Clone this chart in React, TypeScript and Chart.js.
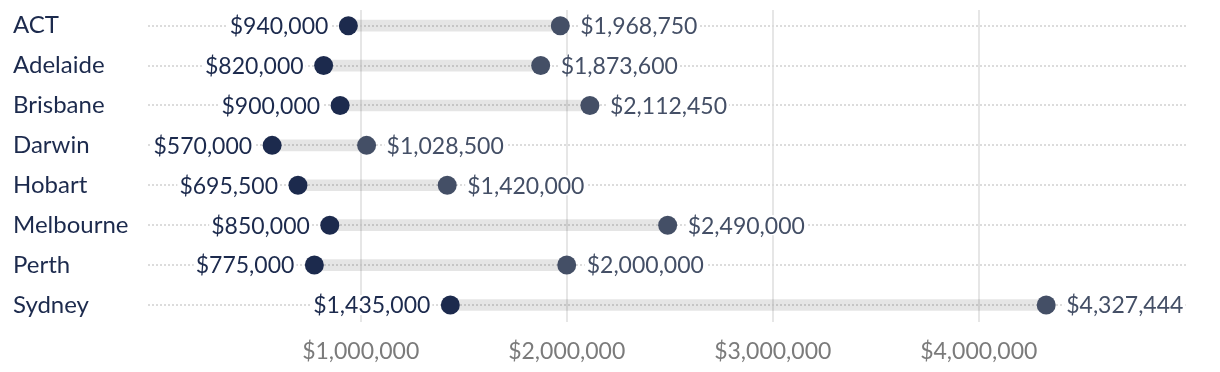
import React, { useEffect, useRef } from "react";
import { Chart, registerables } from "chart.js";

Chart.register(...registerables);

const cities = ["ACT", "Adelaide", "Brisbane", "Darwin", "Hobart", "Melbourne", "Perth", "Sydney"];
const startValues = [940000, 820000, 900000, 570000, 695500, 850000, 775000, 1435000];
const endValues = [1968750, 1873600, 2112450, 1028500, 1420000, 2490000, 2000000, 4327444];
const xTickValues = [1000000, 2000000, 3000000, 4000000];

const FONT = "Lato";
const FS = 23;
const CAT_FS = 24;
const START_COLOR = "#1c2a4d";
const END_COLOR = "#444f66";

const fmt = (v: number) => "$" + String(Math.round(v)).replace(/\B(?=(\d{3})+(?!\d))/g, ",");

const labelPlugin = {
  id: "dumbbellLabels",
  afterDatasetsDraw(chart: any) {
    const { ctx, scales } = chart;
    const x = scales.x;
    const y = scales.y;
    ctx.save();
    ctx.font = `${FS}px ${FONT}`;
    ctx.textBaseline = "middle";
    const draw = (text: string, px: number, py: number, align: "left" | "right", color: string) => {
      const w = ctx.measureText(text).width;
      const left = align === "left" ? px : px - w;
      ctx.fillStyle = "#ffffff";
      ctx.fillRect(left - 2, py - 10, w + 4, 20);
      ctx.fillStyle = color;
      ctx.textAlign = align;
      ctx.fillText(text, px, py + 1);
    };
    cities.forEach((_, i) => {
      const py = y.getPixelForValue(i);
      const xs = x.getPixelForValue(startValues[i]);
      const xe = x.getPixelForValue(endValues[i]);
      draw(fmt(startValues[i]), xs - 20, py, "right", START_COLOR);
      draw(fmt(endValues[i]), xe + 20, py, "left", END_COLOR);
    });
    ctx.restore();
  },
};

export default function App() {
  const ref = useRef<HTMLCanvasElement | null>(null);
  useEffect(() => {
    if (!ref.current) return;
    const chart = new Chart(ref.current, {
      type: "scatter",
      data: {
        datasets: [
          {
            type: "bar",
            indexAxis: "y",
            data: cities.map((_, i) => ({ x: [startValues[i], endValues[i]], y: i })),
            backgroundColor: "rgba(0,0,0,0.1)",
            borderWidth: 0,
            barThickness: 11,
            borderSkipped: false,
            order: 3,
          } as any,
          {
            type: "scatter",
            data: cities.map((_, i) => ({ x: endValues[i], y: i })),
            backgroundColor: END_COLOR,
            borderWidth: 0,
            pointRadius: 9.5,
            pointHoverRadius: 9.5,
            order: 2,
          },
          {
            type: "scatter",
            data: cities.map((_, i) => ({ x: startValues[i], y: i })),
            backgroundColor: START_COLOR,
            borderWidth: 0,
            pointRadius: 9.5,
            pointHoverRadius: 9.5,
            order: 1,
          },
        ],
      },
      options: {
        animation: false,
        responsive: true,
        maintainAspectRatio: false,
        layout: { autoPadding: false, padding: { left: 5, right: 26, top: 2, bottom: 0 } },
        plugins: { legend: { display: false }, tooltip: { enabled: false } },
        scales: {
          x: {
            type: "linear",
            offset: false,
            min: -32500,
            max: 5006000,
            afterBuildTicks: (s: any) => {
              s.ticks = xTickValues.map((v) => ({ value: v }));
            },
            afterFit: (s: any) => {
              s.height = 42;
              s.paddingLeft = 0;
              s.paddingRight = 0;
            },
            grid: { color: "#e6e6e6", lineWidth: 2, drawTicks: false, offset: false },
            border: { display: false },
            ticks: {
              color: "#7b7b7b",
              padding: 16,
              font: { family: FONT, size: FS },
              callback: (v: any) => fmt(Number(v)),
            },
          },
          y: {
            type: "linear",
            offset: false,
            reverse: true,
            min: -0.393,
            max: 7.427,
            afterBuildTicks: (s: any) => {
              s.ticks = cities.map((_, i) => ({ value: i }));
            },
            afterFit: (s: any) => {
              s.width = 135;
              s.paddingTop = 0;
              s.paddingBottom = 0;
            },
            grid: { color: "#dcdcdc", lineWidth: 2, drawTicks: false, offset: false },
            border: { display: false, dash: [2, 2] },
            ticks: {
              color: START_COLOR,
              padding: 0,
              crossAlign: "far",
              font: { family: FONT, size: CAT_FS },
              callback: (v: any) => cities[Number(v)] ?? "",
            },
          },
        },
      },
      plugins: [labelPlugin],
    } as any);
    return () => chart.destroy();
  }, []);
  return (
    <div style={{ width: 1204, height: 356, position: "relative" }}>
      <canvas ref={ref} />
    </div>
  );
}
